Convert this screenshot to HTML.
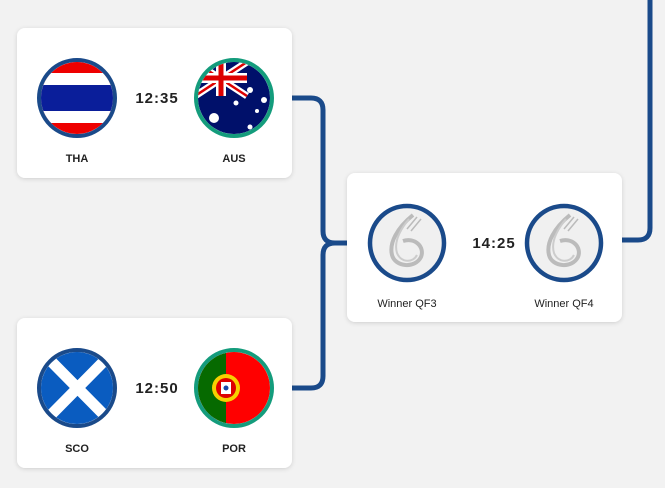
<!DOCTYPE html>
<html><head><meta charset="utf-8"><style>
html,body{margin:0;padding:0;background:#f2f2f2;width:665px;height:488px;overflow:hidden}
svg{display:block}
.t{font-family:"Liberation Sans",sans-serif;font-weight:bold;fill:#222}
</style></head><body>
<svg width="665" height="488" viewBox="0 0 665 488" xmlns="http://www.w3.org/2000/svg">
<defs>
<filter id="sh" x="-10%" y="-10%" width="120%" height="130%"><feDropShadow dx="0" dy="1" stdDeviation="2" flood-color="#000" flood-opacity="0.15"/></filter>
<clipPath id="c1"><circle cx="77" cy="98" r="36"/></clipPath>
<clipPath id="c2"><circle cx="234" cy="98" r="36"/></clipPath>
<clipPath id="c3"><circle cx="77" cy="388" r="36"/></clipPath>
<clipPath id="c4"><circle cx="234" cy="388" r="36"/></clipPath>
<g id="six"><circle r="37" fill="#f0f0f0" stroke="#1a4a8a" stroke-width="4.5"/>
<path d="M6,-28 C-10,-15 -18,0 -15,12 C-12,24 8,26 14,14 C18,4 8,-6 -4,-2" fill="none" stroke="#bbb" stroke-width="4"/>
<path d="M2,-24 C-8,-12 -13,0 -10,10 C-6,20 6,20 10,12" fill="none" stroke="#ccc" stroke-width="2"/>
<path d="M10,-26 L0,-14 M14,-24 L4,-12" stroke="#bbb" stroke-width="1.5"/></g>
</defs>
<g fill="none" stroke="#1a4a8a" stroke-width="5">
<path d="M292,98 H311 Q323,98 323,110 V231 Q323,243 335,243 H347"/>
<path d="M292,388 H311 Q323,388 323,376 V255 Q323,243 335,243"/>
<path d="M622,240 H638 Q650,240 650,228 V0"/>
</g>
<rect x="17" y="28" width="275" height="150" rx="8" fill="#fff" filter="url(#sh)"/>
<rect x="17" y="318" width="275" height="150" rx="8" fill="#fff" filter="url(#sh)"/>
<rect x="347" y="173" width="275" height="149" rx="8" fill="#fff" filter="url(#sh)"/>
<g clip-path="url(#c1)"><rect x="40" y="60" width="80" height="80" fill="#e00"/><rect x="40" y="73" width="80" height="50" fill="#fff"/><rect x="40" y="85" width="80" height="26" fill="#0a1e9a"/></g>
<circle cx="77" cy="98" r="38" fill="none" stroke="#1a4a8a" stroke-width="4"/>
<g clip-path="url(#c2)"><rect x="195" y="60" width="80" height="80" fill="#00106a"/>
<path d="M195,62 L247,96 M247,62 L195,96" stroke="#fff" stroke-width="7"/>
<path d="M195,62 L247,96 M247,62 L195,96" stroke="#d00" stroke-width="2.5"/>
<path d="M221,60 V96 M195,78 H247" stroke="#fff" stroke-width="10"/>
<path d="M221,60 V96 M195,78 H247" stroke="#d00" stroke-width="5"/>
<g fill="#fff"><circle cx="214" cy="118" r="5"/><circle cx="250" cy="90" r="3"/><circle cx="236" cy="103" r="2.5"/><circle cx="264" cy="100" r="3"/><circle cx="257" cy="111" r="2"/><circle cx="250" cy="127" r="2.5"/></g></g>
<circle cx="234" cy="98" r="38" fill="none" stroke="#149c7c" stroke-width="4"/>
<g clip-path="url(#c3)"><rect x="40" y="350" width="80" height="80" fill="#0a5cc0"/>
<path d="M40,350 L115,426 M115,350 L40,426" stroke="#fff" stroke-width="11"/></g>
<circle cx="77" cy="388" r="38" fill="none" stroke="#1a4a8a" stroke-width="4"/>
<g clip-path="url(#c4)"><rect x="195" y="350" width="80" height="80" fill="#f00"/><rect x="195" y="350" width="31" height="80" fill="#066a00"/>
<circle cx="226" cy="388" r="14" fill="#f6d000"/><circle cx="226" cy="388" r="10" fill="#d00"/><rect x="221" y="382" width="10" height="12" fill="#fff"/><circle cx="226" cy="388" r="2.5" fill="#1848a8"/></g>
<circle cx="234" cy="388" r="38" fill="none" stroke="#149c7c" stroke-width="4"/>
<use href="#six" x="407" y="243"/>
<use href="#six" x="564" y="243"/>
<g class="t" font-size="15" text-anchor="middle" font-weight="normal" letter-spacing="1" style="font-weight:600">
<text x="157" y="103">12:35</text><text x="157" y="393">12:50</text><text x="494" y="248">14:25</text></g>
<g class="t" font-size="11" text-anchor="middle">
<text x="77" y="162">THA</text><text x="234" y="162">AUS</text>
<text x="77" y="452">SCO</text><text x="234" y="452">POR</text>
<text x="407" y="307" style="font-weight:normal">Winner QF3</text><text x="564" y="307" style="font-weight:normal">Winner QF4</text></g>
</svg>
</body></html>
